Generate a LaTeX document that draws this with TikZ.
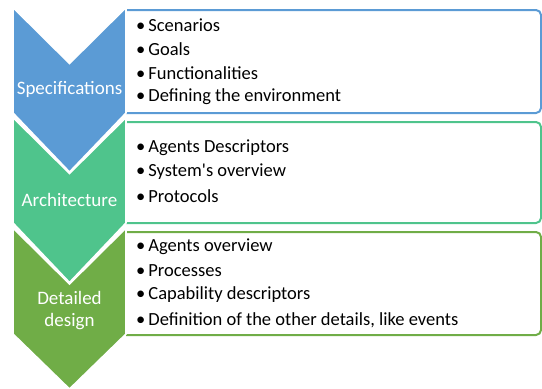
\documentclass[tikz,border=0pt]{standalone}
\usepackage{fontspec}
\setmainfont{Carlito}
\definecolor{cblue}{HTML}{5B9BD5}
\definecolor{cgreen}{HTML}{4FC48C}
\definecolor{colive}{HTML}{70AD47}
\begin{document}
\begin{tikzpicture}[x=1pt,y=-1pt,
  listbox/.style={line width=2pt,rounded corners=5pt},
  chev/.style={draw=white,line width=1.6pt},
  lab/.style={text=white,font=\fontsize{19}{22}\selectfont,align=center},
  item/.style={anchor=west,inner sep=0pt,font=\fontsize{18.5}{22}\selectfont}]
\useasboundingbox (0,0) rectangle (542,389);
% list boxes
\draw[listbox,draw=cblue] (126,10) -- (541,10) -- (541,113) -- (126,113);
\draw[listbox,draw=cgreen] (126,122) -- (541,122) -- (541,223) -- (126,223);
\draw[listbox,draw=colive] (126,232) -- (541,232) -- (541,335) -- (126,335);
% chevrons
\fill[cblue,chev] (13,7.5) -- (69.5,63.5) -- (126,7.5) -- (126,113) -- (69.5,172) -- (13,113) -- cycle;
\fill[cgreen,chev] (13,117.5) -- (69.5,173.5) -- (126,117.5) -- (126,223) -- (69.5,282.5) -- (13,223) -- cycle;
\fill[colive,chev] (13,228) -- (69.5,284) -- (126,228) -- (126,334) -- (69.5,389) -- (13,334) -- cycle;
\node[lab] (s) at (69.5,89) {Specifications};
\node[lab] (a) at (69.5,200) {Architecture};
\node[lab] (d) at (69.5,311) {Detailed\\design};
% items
\node[item] (i1) at (136,25) {\textbullet\hspace{3pt}Scenarios};
\node[item] (i2) at (136,49) {\textbullet\hspace{3pt}Goals};
\node[item] (i3) at (136,73) {\textbullet\hspace{3pt}Functionalities};
\node[item] (i4) at (136,97) {\textbullet\hspace{3pt}Defining the environment};
\node[item] (j1) at (136,148) {\textbullet\hspace{3pt}Agents Descriptors};
\node[item] (j2) at (136,172) {\textbullet\hspace{3pt}System\textquotesingle s overview};
\node[item] (j3) at (136,196) {\textbullet\hspace{3pt}Protocols};
\node[item] (k1) at (136,247) {\textbullet\hspace{3pt}Agents overview};
\node[item] (k2) at (136,271) {\textbullet\hspace{3pt}Processes};
\node[item] (k3) at (136,295) {\textbullet\hspace{3pt}Capability descriptors};
\node[item] (k4) at (136,320) {\textbullet\hspace{3pt}Definition of the other details, like events};
\end{tikzpicture}
\end{document}
